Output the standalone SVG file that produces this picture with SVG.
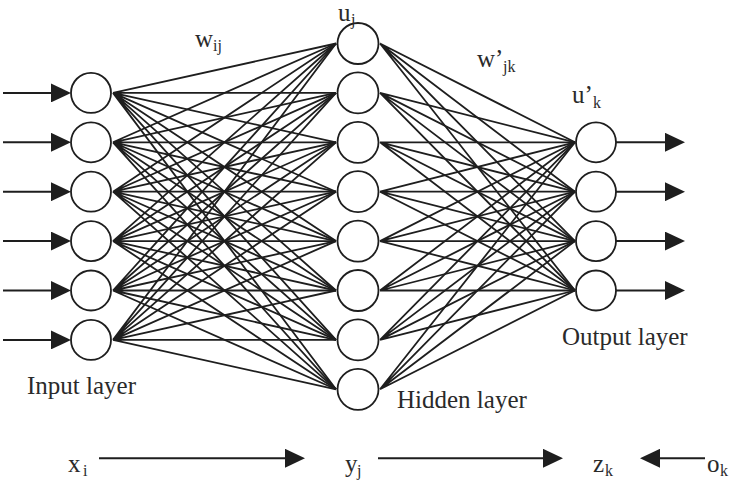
<svg xmlns="http://www.w3.org/2000/svg" width="740" height="483" viewBox="0 0 740 483">
<defs>
<marker id="ah" viewBox="0 0 20 19" refX="0" refY="9.5" markerWidth="20" markerHeight="19" markerUnits="userSpaceOnUse" orient="auto">
<path d="M0,0 L20,9.5 L0,19 Z" fill="#1e1e1e"/>
</marker>
<style>
.e{stroke:#1e1e1e;stroke-width:1.8;fill:none}
.a{stroke:#1e1e1e;stroke-width:2;fill:none;marker-end:url(#ah)}
.n{fill:#fff;stroke:#1e1e1e;stroke-width:1.8}
text{font-family:"Liberation Serif","Times New Roman",serif;font-size:25px;fill:#2a2a2a}
.s{font-size:16px}
</style>
</defs>
<rect width="740" height="483" fill="#fff"/>
<g id="connectors">
<g id="input-hidden">
<path class="e" d="M113,92.9L336,43.5M113,92.9L336,92.9M113,92.9L336,142.3M113,92.9L336,191.7M113,92.9L336,241.1M113,92.9L336,290.5M113,92.9L336,339.9M113,92.9L336,389.3"/>
<path class="e" d="M113,142.3L336,43.5M113,142.3L336,92.9M113,142.3L336,142.3M113,142.3L336,191.7M113,142.3L336,241.1M113,142.3L336,290.5M113,142.3L336,339.9M113,142.3L336,389.3"/>
<path class="e" d="M113,191.7L336,43.5M113,191.7L336,92.9M113,191.7L336,142.3M113,191.7L336,191.7M113,191.7L336,241.1M113,191.7L336,290.5M113,191.7L336,339.9M113,191.7L336,389.3"/>
<path class="e" d="M113,241.1L336,43.5M113,241.1L336,92.9M113,241.1L336,142.3M113,241.1L336,191.7M113,241.1L336,241.1M113,241.1L336,290.5M113,241.1L336,339.9M113,241.1L336,389.3"/>
<path class="e" d="M113,290.5L336,43.5M113,290.5L336,92.9M113,290.5L336,142.3M113,290.5L336,191.7M113,290.5L336,241.1M113,290.5L336,290.5M113,290.5L336,339.9M113,290.5L336,389.3"/>
<path class="e" d="M113,339.9L336,43.5M113,339.9L336,92.9M113,339.9L336,142.3M113,339.9L336,191.7M113,339.9L336,241.1M113,339.9L336,290.5M113,339.9L336,339.9M113,339.9L336,389.3"/>
</g>
<g id="hidden-output">
<path class="e" d="M380,43.5L575,142.3M380,43.5L575,191.7M380,43.5L575,241.1M380,43.5L575,290.5"/>
<path class="e" d="M380,92.9L575,142.3M380,92.9L575,191.7M380,92.9L575,241.1M380,92.9L575,290.5"/>
<path class="e" d="M380,142.3L575,142.3M380,142.3L575,191.7M380,142.3L575,241.1M380,142.3L575,290.5"/>
<path class="e" d="M380,191.7L575,142.3M380,191.7L575,191.7M380,191.7L575,241.1M380,191.7L575,290.5"/>
<path class="e" d="M380,241.1L575,142.3M380,241.1L575,191.7M380,241.1L575,241.1M380,241.1L575,290.5"/>
<path class="e" d="M380,290.5L575,142.3M380,290.5L575,191.7M380,290.5L575,241.1M380,290.5L575,290.5"/>
<path class="e" d="M380,339.9L575,142.3M380,339.9L575,191.7M380,339.9L575,241.1M380,339.9L575,290.5"/>
<path class="e" d="M380,389.3L575,142.3M380,389.3L575,191.7M380,389.3L575,241.1M380,389.3L575,290.5"/>
</g>
<g id="input-arrows">
<line class="a" x1="3" y1="92.9" x2="51" y2="92.9"/>
<line class="a" x1="3" y1="142.3" x2="51" y2="142.3"/>
<line class="a" x1="3" y1="191.7" x2="51" y2="191.7"/>
<line class="a" x1="3" y1="241.1" x2="51" y2="241.1"/>
<line class="a" x1="3" y1="290.5" x2="51" y2="290.5"/>
<line class="a" x1="3" y1="339.9" x2="51" y2="339.9"/>
</g>
<g id="output-arrows">
<line class="a" x1="616" y1="142.3" x2="665" y2="142.3"/>
<line class="a" x1="616" y1="191.7" x2="665" y2="191.7"/>
<line class="a" x1="616" y1="241.1" x2="665" y2="241.1"/>
<line class="a" x1="616" y1="290.5" x2="665" y2="290.5"/>
</g>
<g id="flow-arrows">
<line class="a" x1="99" y1="458.3" x2="285" y2="458.3"/>
<line class="a" x1="378" y1="458.3" x2="543" y2="458.3"/>
<line class="a" x1="705" y1="458.3" x2="660" y2="458.3"/>
</g>
</g>
<g id="input-layer">
<circle id="in1" class="n" cx="91" cy="92.9" r="20"/>
<circle id="in2" class="n" cx="91" cy="142.3" r="20"/>
<circle id="in3" class="n" cx="91" cy="191.7" r="20"/>
<circle id="in4" class="n" cx="91" cy="241.1" r="20"/>
<circle id="in5" class="n" cx="91" cy="290.5" r="20"/>
<circle id="in6" class="n" cx="91" cy="339.9" r="20"/>
<text x="27" y="394">Input layer</text>
</g>
<g id="hidden-layer">
<circle id="h1" class="n" cx="358" cy="43.5" r="20.5"/>
<circle id="h2" class="n" cx="358" cy="92.9" r="20.5"/>
<circle id="h3" class="n" cx="358" cy="142.3" r="20.5"/>
<circle id="h4" class="n" cx="358" cy="191.7" r="20.5"/>
<circle id="h5" class="n" cx="358" cy="241.1" r="20.5"/>
<circle id="h6" class="n" cx="358" cy="290.5" r="20.5"/>
<circle id="h7" class="n" cx="358" cy="339.9" r="20.5"/>
<circle id="h8" class="n" cx="358" cy="389.3" r="20.5"/>
<text x="397" y="408">Hidden layer</text>
</g>
<g id="output-layer">
<circle id="o1" class="n" cx="596" cy="142.3" r="20"/>
<circle id="o2" class="n" cx="596" cy="191.7" r="20"/>
<circle id="o3" class="n" cx="596" cy="241.1" r="20"/>
<circle id="o4" class="n" cx="596" cy="290.5" r="20"/>
<text x="562" y="345">Output layer</text>
</g>
<g id="labels">
<text x="195" y="47">w<tspan class="s" x="213" y="51">ij</tspan></text>
<text x="338" y="21">u<tspan class="s" x="351" y="25">j</tspan></text>
<text x="477" y="67">w’<tspan class="s" x="503" y="72">jk</tspan></text>
<text x="572" y="103">u’<tspan class="s" x="593" y="108">k</tspan></text>
<text x="68" y="472">x<tspan class="s" x="83" y="476">i</tspan></text>
<text x="345" y="472">y<tspan class="s" x="357" y="476">j</tspan></text>
<text x="593" y="472">z<tspan class="s" x="605" y="476">k</tspan></text>
<text x="707" y="472">o<tspan class="s" x="720" y="476">k</tspan></text>
</g>
</svg>
